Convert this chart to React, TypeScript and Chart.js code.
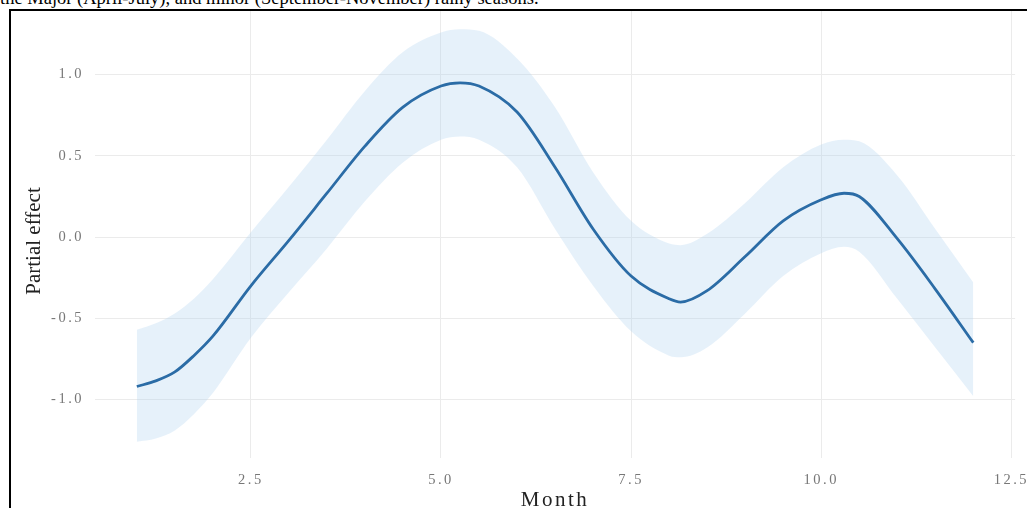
import React, { useEffect, useRef } from "react";
import { Chart, registerables } from "chart.js";

Chart.register(...registerables);

const MONTHS = [1, 1.25, 1.5, 1.75, 2, 2.5, 3, 3.5, 4, 4.5, 5, 5.25, 5.5, 6, 6.5, 7, 7.5, 8, 8.15, 8.5, 9, 9.5, 10, 10.3, 10.5, 11, 11.5, 12];
const EFFECT = [-0.92, -0.885, -0.83, -0.73, -0.61, -0.3, -0.02, 0.27, 0.56, 0.8, 0.93, 0.95, 0.93, 0.77, 0.43, 0.05, -0.24, -0.38, -0.4, -0.33, -0.12, 0.1, 0.23, 0.27, 0.25, -0.01, -0.32, -0.65];
const UPPER = [-0.57, -0.53, -0.47, -0.38, -0.26, 0.03, 0.31, 0.6, 0.9, 1.14, 1.26, 1.28, 1.27, 1.1, 0.8, 0.4, 0.1, -0.04, -0.05, 0.02, 0.21, 0.43, 0.57, 0.6, 0.59, 0.38, 0.05, -0.28];
const LOWER = [-1.26, -1.24, -1.19, -1.09, -0.96, -0.62, -0.34, -0.07, 0.22, 0.46, 0.6, 0.62, 0.6, 0.43, 0.05, -0.3, -0.58, -0.73, -0.74, -0.68, -0.47, -0.24, -0.1, -0.06, -0.09, -0.38, -0.68, -0.98];
const X_TICKS = [2.5, 5.0, 7.5, 10.0, 12.5];
const Y_TICKS = [-1.0, -0.5, 0.0, 0.5, 1.0];

const CAPTION = "the Major (April-July), and minor (September-November) rainy seasons.";
const X_TITLE = "Month";
const Y_TITLE = "Partial effect";

const serif = "'Liberation Serif', 'Times New Roman', serif";

const spacingPlugin = {
  id: "letterSpacing",
  beforeDraw(chart: any) {
    try {
      (chart.ctx as any).letterSpacing = "2.5px";
    } catch (e) {
      /* ignore */
    }
  },
};

export default function App() {
  const ref = useRef<HTMLCanvasElement>(null);

  useEffect(() => {
    if (!ref.current) return;
    const pts = (arr: number[]) => MONTHS.map((m, i) => ({ x: m, y: arr[i] }));
    const chart = new Chart(ref.current, {
      type: "line",
      plugins: [spacingPlugin],
      data: {
        datasets: [
          {
            data: pts(EFFECT),
            borderWidth: 2.8,
            borderColor: "#2B6CA6",
            pointRadius: 0,
            fill: false,
            cubicInterpolationMode: "monotone",
          },
          {
            data: pts(UPPER),
            borderWidth: 0,
            borderColor: "rgba(0,0,0,0)",
            backgroundColor: "rgba(173,210,240,0.3)",
            pointRadius: 0,
            fill: "+1",
            cubicInterpolationMode: "monotone",
          },
          {
            data: pts(LOWER),
            borderWidth: 0,
            borderColor: "rgba(0,0,0,0)",
            pointRadius: 0,
            fill: false,
            cubicInterpolationMode: "monotone",
          },
        ],
      },
      options: {
        animation: false,
        responsive: false,
        maintainAspectRatio: false,
        layout: { padding: 0 },
        plugins: { legend: { display: false }, tooltip: { enabled: false } },
        scales: {
          x: {
            type: "linear",
            min: 0.45,
            max: 12.55,
            border: { display: false },
            grid: { color: "#EBEBEB", lineWidth: 1, drawTicks: false },
            afterBuildTicks: (s: any) => {
              s.ticks = X_TICKS.map((v) => ({ value: v }));
            },
            afterFit: (s: any) => {
              s.height = 50;
            },
            ticks: {
              padding: 13,
              color: "#777",
              font: { family: serif, size: 14.5 },
              callback: (v: any) => Number(v).toFixed(1),
            },
            title: {
              display: true,
              text: X_TITLE,
              color: "#222",
              font: { family: serif, size: 21, lineHeight: 0.76 },
              padding: { top: 0, bottom: 0 },
            },
          },
          y: {
            type: "linear",
            min: -1.36,
            max: 1.4,
            border: { display: false },
            grid: { color: "#EBEBEB", lineWidth: 1, drawTicks: false },
            afterBuildTicks: (s: any) => {
              s.ticks = Y_TICKS.map((v) => ({ value: v }));
            },
            afterFit: (s: any) => {
              s.width = 84;
            },
            ticks: {
              padding: 11,
              color: "#777",
              font: { family: serif, size: 14.5 },
              callback: (v: any) => Number(v).toFixed(1),
            },
            title: { display: false },
          },
        },
      },
    });
    return () => chart.destroy();
  }, []);

  return (
    <div
      style={{
        position: "absolute",
        left: 0,
        top: 0,
        width: 1027,
        height: 508,
        overflow: "hidden",
        background: "#fff",
      }}
    >
      <div
        style={{
          position: "absolute",
          left: 0,
          top: -11,
          whiteSpace: "nowrap",
          fontFamily: serif,
          fontSize: 18.5,
          lineHeight: 1,
          color: "#000",
        }}
      >
        {CAPTION}
      </div>
      <canvas
        ref={ref}
        width={1026}
        height={518}
        style={{ position: "absolute", left: 11, top: -10, width: 1026, height: 518 }}
      />
      <div
        style={{
          position: "absolute",
          left: 33 - 100,
          top: 241 - 12,
          width: 200,
          height: 24,
          lineHeight: "24px",
          textAlign: "center",
          fontFamily: serif,
          fontSize: 21,
          color: "#222",
          whiteSpace: "nowrap",
          transform: "rotate(-90deg)",
          transformOrigin: "50% 50%",
        }}
      >
        {Y_TITLE}
      </div>
      <div
        style={{
          position: "absolute",
          left: 9,
          top: 9,
          width: 1027,
          height: 508,
          borderLeft: "2px solid #000",
          borderTop: "2px solid #000",
          pointerEvents: "none",
        }}
      />
    </div>
  );
}
